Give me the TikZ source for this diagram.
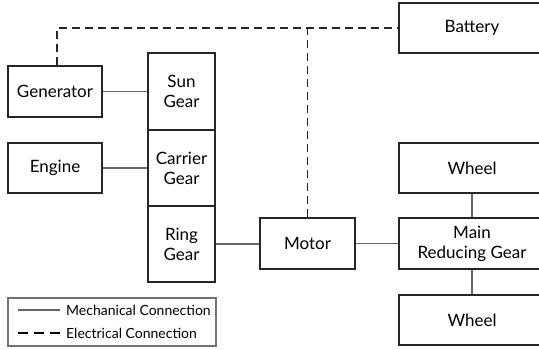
\documentclass[tikz,border=0pt]{standalone}
\usepackage{fontspec}
\setmainfont{Lato}
\begin{document}
\begin{tikzpicture}[x=1pt,y=-1pt,
  box/.style={draw=black!85, line width=1.2pt, rectangle, inner sep=0pt, align=center,
    font=\fontsize{17}{20}\selectfont, text=black},
  mech/.style={draw=black!60, line width=1.3pt},
  elec/.style={draw=black!85, line width=1.3pt, dash pattern=on 8pt off 5pt},
  legtext/.style={font=\fontsize{14}{16}\selectfont, anchor=west, inner sep=0pt}]
\useasboundingbox (0,0) rectangle (539,349);
\clip (0,0) rectangle (539,349);
\node[box, minimum width=94pt, minimum height=51pt] (gen) at (55,91.5) {Generator};
\node[box, minimum width=94pt, minimum height=50pt] (eng) at (55,168) {Engine};
\node[box, minimum width=67pt, minimum height=77pt] (sun) at (181.5,91.5) {Sun\\Gear};
\node[box, minimum width=67pt, minimum height=76pt] (car) at (181.5,168) {Carrier\\Gear};
\node[box, minimum width=67pt, minimum height=76pt] (ring) at (181.5,244) {Ring\\Gear};
\node[box, minimum width=95pt, minimum height=51pt] (mot) at (307.5,243.5) {Motor};
\node[box, minimum width=146pt, minimum height=50pt] (bat) at (472,28) {Battery};
\node[box, minimum width=146pt, minimum height=50pt] (wh1) at (472,168) {Wheel};
\node[box, minimum width=146pt, minimum height=51pt] (mrg) at (472,243.5) {Main\\Reducing Gear};
\node[box, minimum width=146pt, minimum height=50pt] (wh2) at (472,320) {Wheel};
% mechanical
\draw[mech] (gen.east) -- (gen.east -| sun.west);
\draw[mech] (eng.east) -- (eng.east -| car.west);
\draw[mech] (ring.east) -- (ring.east -| mot.west);
\draw[mech] (mot.east) -- (mrg.west);
\draw[mech] (wh1.south) -- (mrg.north);
\draw[mech] (mrg.south) -- (wh2.north);
% electrical
\coordinate (c1) at (57,28);
\coordinate (c2) at (307.5,28);
\draw[elec] (gen.north -| c1) -- (c1) -- (bat.west);
\draw[elec] (mot.north) -- (c2);
% legend
\node[draw=black!55, line width=2.5pt, minimum width=208pt, minimum height=48pt, inner sep=0pt] (leg) at (112,322) {};
\coordinate (l1a) at (18,310);
\coordinate (l1b) at (60,310);
\coordinate (l2a) at (18,333);
\coordinate (l2b) at (60,333);
\draw[draw=black!60, line width=1.2pt] (l1a) -- (l1b);
\draw[draw=black, line width=1.6pt, dash pattern=on 10pt off 6pt] (l2a) -- (l2b);
\node[legtext] (t1) at (66,310) {Mechanical Connection};
\node[legtext] (t2) at (66,333) {Electrical Connection};
\end{tikzpicture}
\end{document}
